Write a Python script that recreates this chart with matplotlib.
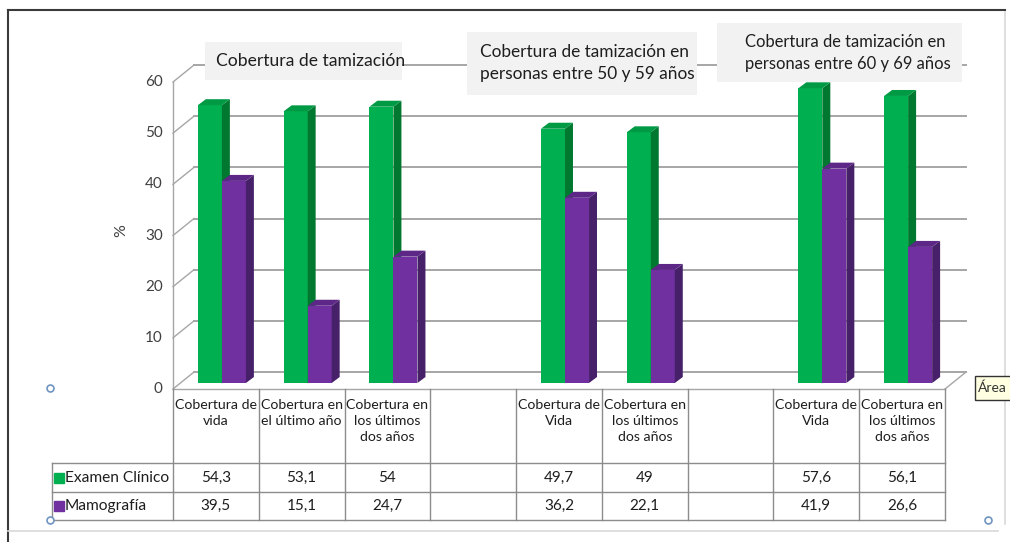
import matplotlib
matplotlib.use("Agg")
import matplotlib.pyplot as plt
from matplotlib.patches import Rectangle, Polygon
import numpy as np

plt.rcParams['font.family'] = ['Lato', 'DejaVu Sans']

# data
categories = ["Cobertura de\nvida", "Cobertura en\nel último año", "Cobertura en\nlos últimos\ndos años", "",
              "Cobertura de\nVida", "Cobertura en\nlos últimos\ndos años", "",
              "Cobertura de\nVida", "Cobertura en\nlos últimos\ndos años"]
examen = [54.3, 53.1, 54, np.nan, 49.7, 49, np.nan, 57.6, 56.1]
mamo = [39.5, 15.1, 24.7, np.nan, 36.2, 22.1, np.nan, 41.9, 26.6]
series_names = ["Examen Clínico", "Mamografía"]
yticks = [0, 10, 20, 30, 40, 50, 60]
group_titles = ["Cobertura de tamización",
                "Cobertura de tamización en\npersonas entre 50 y 59 años",
                "Cobertura de tamización en\npersonas entre 60 y 69 años"]

green, green_side, green_top = "#00b050", "#00782f", "#009a45"
purple, purple_side, purple_top = "#7030a0", "#47206a", "#5c2787"
grid_c = "#a6a6a6"
txt = "#1e1e1e"

W, H = 1010, 542
fig = plt.figure(figsize=(W / 100, H / 100), dpi=100)


def fx(px):
    return px / W


def fy(py):
    return 1 - py / H


# main plot area (front face of the 3d box)
ax = fig.add_axes([fx(173), fy(389), fx(945) - fx(173), fy(82) - fy(389)])
ax.set_xlim(0, 9)
ax.set_ylim(0, 60)
ax.axis("off")

DX, DY = 0.245, 3.32      # depth of the box
BX, BY = 0.07, 1.17       # where bars sit in the depth
SX, SY = 0.093, 1.17      # depth of a bar
BW = 0.28

# back wall gridlines and diagonals
for v in yticks:
    ax.plot([DX, 9 + DX], [v + DY, v + DY], color=grid_c, lw=1.4, clip_on=False, zorder=1)
    ax.plot([0, DX], [v, v + DY], color=grid_c, lw=1.0, clip_on=False, zorder=1)
    ax.text(-0.12, v, str(v), ha="right", va="center", fontsize=11, color="#404040")
ax.plot([0, 0], [0, 60], color=grid_c, lw=1.0, clip_on=False, zorder=1)
ax.plot([0, 9], [0, 0], color=grid_c, lw=1.0, clip_on=False, zorder=1)
ax.plot([9, 9 + DX], [0, DY], color=grid_c, lw=1.0, clip_on=False, zorder=1)
ax.text(-0.6, 31, "%", rotation=90, ha="center", va="center", fontsize=11.5, color="#404040")


def bar3d(x0, v, face, side, top):
    x1 = x0 + BW
    y0 = BY
    y1 = BY + v
    ax.add_patch(Rectangle((x0, y0), BW, v, facecolor=face, edgecolor="none", zorder=3, clip_on=False))
    ax.add_patch(Polygon([(x1, y0), (x1 + SX, y0 + SY), (x1 + SX, y1 + SY), (x1, y1)],
                         facecolor=side, edgecolor="none", zorder=3, clip_on=False))
    ax.add_patch(Polygon([(x0, y1), (x1, y1), (x1 + SX, y1 + SY), (x0 + SX, y1 + SY)],
                         facecolor=top, edgecolor="none", zorder=3, clip_on=False))


for i in range(len(categories)):
    c = i + 0.5 + BX
    if not np.isnan(examen[i]):
        bar3d(c - BW, examen[i], green, green_side, green_top)
    if not np.isnan(mamo[i]):
        bar3d(c, mamo[i], purple, purple_side, purple_top)

# group title boxes
boxes = [(205, 42, 402, 80), (467, 32, 697, 95), (717, 23, 962, 82)]
for (x0, y0, x1, y1) in boxes:
    fig.patches.append(Rectangle((fx(x0), fy(y1)), fx(x1) - fx(x0), fy(y0) - fy(y1),
                                 transform=fig.transFigure, facecolor="#f2f2f2",
                                 edgecolor="none", zorder=5))
fig.text(fx(311), fy(61), group_titles[0], ha="center", va="center", fontsize=12.6, color=txt, zorder=6)
fig.text(fx(480), fy(63), group_titles[1], ha="left", va="center", fontsize=12.4, color=txt,
         linespacing=1.5, zorder=6)
fig.text(fx(745), fy(53), group_titles[2], ha="left", va="center", fontsize=11.9, color=txt,
         linespacing=1.45, zorder=6)

# data table
tab = fig.add_axes([fx(52), fy(520), fx(945) - fx(52), fy(389) - fy(520)])
tab.set_xlim(-1.41, 9)
tab.set_ylim(131, 0)
tab.axis("off")
tc = "#8c8c8c"
for k in range(10):
    tab.plot([k, k], [0, 131], color=tc, lw=1.0, clip_on=False)
tab.plot([-1.41, -1.41], [74, 131], color=tc, lw=1.0, clip_on=False)
for yy in [74, 103, 131]:
    tab.plot([-1.41, 9], [yy, yy], color=tc, lw=1.0, clip_on=False)
for i, lab in enumerate(categories):
    tab.text(i + 0.5, 10, lab, ha="center", va="top", fontsize=10.2, color=txt, linespacing=1.42)
    if not np.isnan(examen[i]):
        tab.text(i + 0.5, 88.5, f"{examen[i]:g}".replace(".", ","), ha="center", va="center",
                 fontsize=11, color=txt)
        tab.text(i + 0.5, 117, f"{mamo[i]:g}".replace(".", ","), ha="center", va="center",
                 fontsize=11, color=txt)
for yy, name, col in [(88.5, series_names[0], green), (117, series_names[1], purple)]:
    tab.plot([-1.41 + 0.08], [yy], marker="s", markersize=7, color=col, clip_on=False)
    tab.text(-1.41 + 0.15, yy, name, ha="left", va="center", fontsize=11.2, color=txt)

# chart frame
frame_dark = "#3a3a3a"
fig.lines.append(plt.Line2D([fx(8), fx(1005)], [fy(10), fy(10)], transform=fig.transFigure,
                            color=frame_dark, lw=1.5))
fig.lines.append(plt.Line2D([fx(8), fx(8)], [fy(10), fy(542)], transform=fig.transFigure,
                            color=frame_dark, lw=1.5))
fig.lines.append(plt.Line2D([fx(8), fx(998)], [fy(531), fy(531)], transform=fig.transFigure,
                            color="#d9d9d9", lw=1.2))
fig.lines.append(plt.Line2D([fx(1005), fx(1005)], [fy(12), fy(524)], transform=fig.transFigure,
                            color="#d9d9d9", lw=1.2))

# selection handles
for (hx, hy) in [(50, 388), (50, 520), (988, 520)]:
    fig.lines.append(plt.Line2D([fx(hx)], [fy(hy)], transform=fig.transFigure, marker="o",
                                markersize=5, markerfacecolor="white", markeredgecolor="#6f94c2",
                                markeredgewidth=1.2))

# tooltip
fig.patches.append(Rectangle((fx(975), fy(400)), fx(1012) - fx(975), fy(376) - fy(400),
                             transform=fig.transFigure, facecolor="#ffffe1", edgecolor="#333333",
                             lw=1.0, zorder=6))
fig.text(fx(978), fy(388), "Área", ha="left", va="center", fontsize=10, color="#333333", zorder=7)

fig.savefig("out.png", dpi=100)
